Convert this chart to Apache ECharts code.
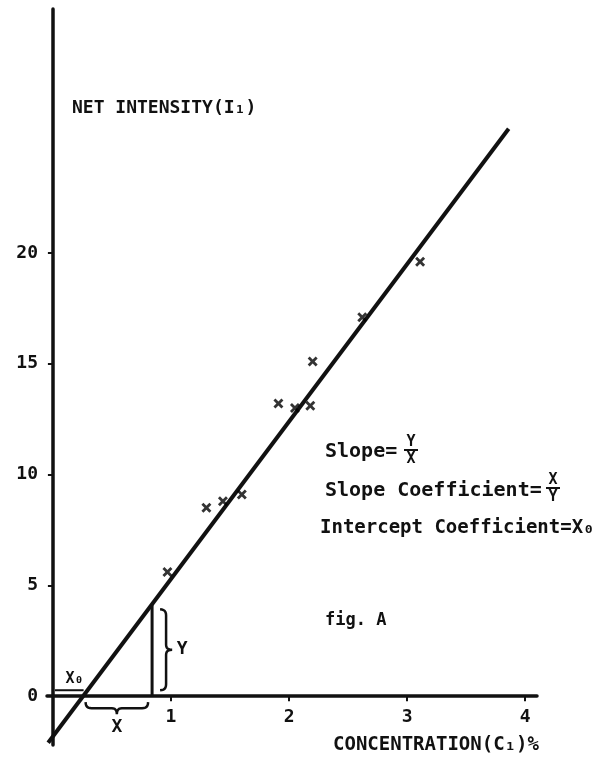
<!DOCTYPE html>
<html>
<head>
<meta charset="utf-8">
<script src="https://cdn.jsdelivr.net/npm/echarts@6/dist/echarts.min.js"></script>
<style>
html, body { margin: 0; padding: 0; background: #fff; }
#chart { width: 606px; height: 757px; }
</style>
</head>
<body>
<div id="chart"></div>
<script>
// measured points (concentration %, net intensity)
var conc = [0.97, 1.30, 1.44, 1.60, 1.91, 2.05, 2.18, 2.20, 2.62, 3.11];
var intensity = [5.6, 8.5, 8.8, 9.1, 13.2, 13.0, 13.1, 15.1, 17.1, 19.6];
// fitted calibration line end points
var fitX = [-0.04, 3.86];
var fitY = [-2.1, 25.6];
// rise (Y) of the slope triangle and intercept X0
var riseX = [0.84, 0.84];
var riseY = [0, 4.1];
var interceptX = 0.26;
var xTicks = [1, 2, 3, 4];
var yTicks = [0, 5, 10, 15, 20];
var yTickMarks = [5, 10, 15, 20];

var ink = '#111';
var mono = '"DejaVu Sans Mono", "Liberation Mono", monospace';
var crossPath = 'path://M0,2 L2,0 L5,3 L8,0 L10,2 L7,5 L10,8 L8,10 L5,7 L2,10 L0,8 L3,5 Z';

var myChart = echarts.init(document.getElementById('chart'));

function pairs(xs, ys) {
  return xs.map(function (x, i) { return [x, ys[i]]; });
}

var option = {
  animation: false,
  backgroundColor: '#fff',
  grid: {
    left: 47,
    right: 69,
    top: 9,
    bottom: 12,
    outerBoundsMode: 'none'
  },
  xAxis: {
    type: 'value',
    min: -0.05,
    max: 4.1,
    splitLine: { show: false },
    axisLine: { onZero: true, lineStyle: { color: ink, width: 3.5 } },
    axisTick: { customValues: xTicks, length: 5, lineStyle: { color: ink, width: 2 } },
    axisLabel: {
      customValues: xTicks,
      color: ink,
      fontFamily: mono,
      fontWeight: 'bold',
      fontSize: 18,
      margin: -37
    }
  },
  yAxis: {
    type: 'value',
    min: -2.2,
    max: 31,
    splitLine: { show: false },
    axisLine: { onZero: true, lineStyle: { color: ink, width: 3.5 } },
    axisTick: { customValues: yTickMarks, length: 5, lineStyle: { color: ink, width: 2 } },
    axisLabel: {
      customValues: yTicks,
      color: ink,
      fontFamily: mono,
      fontWeight: 'bold',
      fontSize: 18,
      margin: 9
    }
  },
  series: [
    {
      name: 'fit',
      type: 'line',
      data: pairs(fitX, fitY),
      symbol: 'none',
      lineStyle: { color: ink, width: 4 }
    },
    {
      name: 'rise',
      type: 'line',
      data: pairs(riseX, riseY),
      symbol: 'none',
      lineStyle: { color: ink, width: 3 }
    },
    {
      name: 'samples',
      type: 'scatter',
      data: pairs(conc, intensity),
      symbol: crossPath,
      symbolSize: 10,
      itemStyle: { color: '#000' },
      z: 5
    }
  ]
};
myChart.setOption(option);

// annotations placed from the data scale
function px(x, y) {
  return myChart.convertToPixel({ gridIndex: 0 }, [x, y]);
}
var o = px(0, 0);
var pI = px(interceptX, 0);
var pR = px(riseX[0], 0);
var pT = px(riseX[1], riseY[1]);

function label(text, x, y, size, align) {
  return {
    type: 'text',
    x: x,
    y: y,
    style: {
      text: text,
      font: 'bold ' + size + 'px ' + mono,
      fill: ink,
      align: align || 'left',
      verticalAlign: 'middle'
    }
  };
}

function fraction(top, bottom, cx, cy) {
  return [
    label(top, cx, cy - 8, 15, 'center'),
    { type: 'line', shape: { x1: cx - 7, y1: cy, x2: cx + 7, y2: cy }, style: { stroke: ink, lineWidth: 2 } },
    label(bottom, cx, cy + 9, 15, 'center')
  ];
}

// curly brace as a polyline: list of [start, control, end] quadratic pieces joined by straight runs
function bracePoints(pieces) {
  var pts = [];
  pieces.forEach(function (q) {
    for (var i = 0; i <= 6; i++) {
      var t = i / 6, u = 1 - t;
      pts.push([
        u * u * q[0][0] + 2 * u * t * q[1][0] + t * t * q[2][0],
        u * u * q[0][1] + 2 * u * t * q[1][1] + t * t * q[2][1]
      ]);
    }
  });
  return pts;
}

// brace under the x axis between intercept and rise
var bx1 = pI[0] + 2, bx2 = pR[0] - 4, by = o[1] + 6, bm = (bx1 + bx2) / 2;
var braceX = bracePoints([
  [[bx1, by], [bx1, by + 6], [bx1 + 6, by + 6]],
  [[bm - 5, by + 6], [bm, by + 6], [bm, by + 12]],
  [[bm, by + 12], [bm, by + 6], [bm + 5, by + 6]],
  [[bx2 - 6, by + 6], [bx2, by + 6], [bx2, by]]
]);

// brace right of the rise line
var cx = pR[0] + 8, cy1 = pT[1] + 4, cy2 = pR[1] - 6, cm = (cy1 + cy2) / 2;
var braceY = bracePoints([
  [[cx, cy1], [cx + 6, cy1], [cx + 6, cy1 + 6]],
  [[cx + 6, cm - 5], [cx + 6, cm], [cx + 12, cm]],
  [[cx + 12, cm], [cx + 6, cm], [cx + 6, cm + 5]],
  [[cx + 6, cy2 - 6], [cx + 6, cy2], [cx, cy2]]
]);

var graphics = [
  label('NET INTENSITY(I\u2081)', 72, 108, 18),
  label('CONCENTRATION(C\u2081)%', 333, 745, 19),
  { type: 'polyline', shape: { points: braceX }, style: { stroke: ink, fill: null, lineWidth: 2.5 } },
  label('X', bm, by + 25, 18, 'center'),
  { type: 'polyline', shape: { points: braceY }, style: { stroke: ink, fill: null, lineWidth: 2.5 } },
  label('Y', cx + 22, cm, 18, 'center'),
  { type: 'line', shape: { x1: o[0] + 2, y1: o[1] - 6, x2: pI[0], y2: o[1] - 6 }, style: { stroke: ink, lineWidth: 2 } },
  label('X\u2080', pI[0] - 9, o[1] - 17, 15, 'center'),
  label('Slope=', 325, 452, 20),
  label('Slope Coefficient=', 325, 491, 20),
  label('Intercept Coefficient=X\u2080', 320, 528, 19),
  label('fig. A', 325, 621, 17)
]
  .concat(fraction('Y', 'X', 411, 450))
  .concat(fraction('X', 'Y', 553, 488));

myChart.setOption({ graphic: graphics });
</script>
</body>
</html>
